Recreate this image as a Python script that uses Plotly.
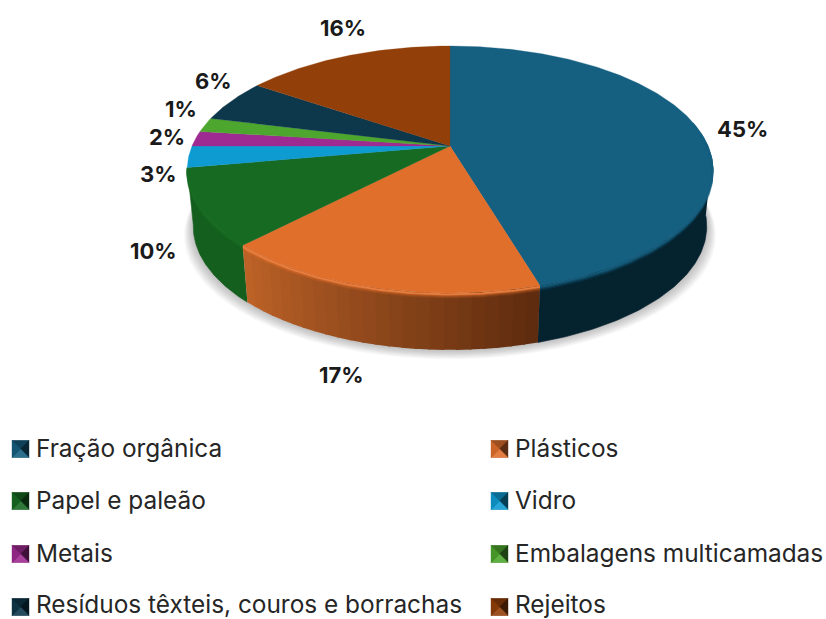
import numpy as np
import plotly.graph_objects as go

# ---- data ----
categories = ["Fração orgânica", "Plásticos", "Papel e paleão", "Vidro", "Metais",
              "Embalagens multicamadas", "Resíduos têxteis, couros e borrachas", "Rejeitos"]
slice_shares = [45.4, 16.8, 10.0, 2.8, 2.0, 1.9, 5.6, 15.5]   # slice sizes as drawn
percent_labels = ["45%", "17%", "10%", "3%", "2%", "1%", "6%", "16%"]  # printed labels
top_colors = ["#155F80", "#E06F2C", "#176A22", "#0E9BD2", "#9E2B91", "#4DA62D", "#0D384C", "#933F0A"]
wall_colors = ["#05222F", "#C06428", "#145E1E", "#0A6A90", "#6A1D62", "#347020", "#082430", "#602806"]

# ---- layout constants (pixel space of the 826x619 page) ----
W, H = 826, 619
CX, CY = 450, 146
RX, KY, P = 258, 119, 0.19     # perspective ellipse
DEPTH, BOTTOM_SCALE = 57, 0.977
label_xy = [(742, 129), (341, 375), (153, 251), (158, 174), (167, 137), (181, 109), (213, 81), (343, 28)]
legend_xy = [(12, 448), (491, 448), (12, 500), (491, 500), (12, 553), (491, 553), (12, 604), (491, 604)]
FONT = "Inter"


def rim(theta_deg, offset=0.0):
    t = np.radians(theta_deg)
    u, v = np.sin(t), -np.cos(t)
    den = 1 - P * v
    return CX + RX * u / den, CY + KY * v / den + offset


def floor_rim(theta_deg, grow=0.0, drop=0.0):
    x, y = rim(theta_deg)
    return CX + (x - CX) * (BOTTOM_SCALE + grow), y + DEPTH + drop


def hexrgb(c):
    return tuple(int(c[i:i + 2], 16) for i in (1, 3, 5))


def mix(a, b, f):
    ra, rb = hexrgb(a), hexrgb(b)
    return "rgb(%d,%d,%d)" % tuple(round(x + (y - x) * f) for x, y in zip(ra, rb))


fig = go.Figure()


def poly(xs, ys, color, name=None, line_w=0.6):
    fig.add_trace(go.Scatter(x=list(xs), y=list(ys), mode="lines", fill="toself", fillcolor=color,
                             line=dict(color=color, width=line_w), name=name or "",
                             hoverinfo="skip", showlegend=False))


def stroke(xs, ys, color, width):
    fig.add_trace(go.Scatter(x=list(xs), y=list(ys), mode="lines", line=dict(color=color, width=width),
                             hoverinfo="skip", showlegend=False))


edges = np.cumsum([0] + slice_shares) / sum(slice_shares) * 360

# soft shadow beneath the disc
all_t = np.linspace(0, 360, 361)
for e in range(11, 0, -1):
    xs, ys = floor_rim(all_t, grow=e * 0.0032, drop=e * 0.85)
    poly(xs, ys, "rgba(60,60,60,0.030)", line_w=0)

# side walls of the front-facing slices
SIL_A, SIL_B = 96, edges[3]
for i in (0, 2):
    a, b = max(edges[i], SIL_A), min(edges[i + 1], SIL_B)
    t = np.linspace(a, b, 80)
    x1, y1 = rim(t)
    x2, y2 = floor_rim(t)
    poly(np.r_[x1, x2[::-1]], np.r_[y1, y2[::-1]], wall_colors[i], categories[i])

# plastic wall carries a banded gradient, left bright -> right dark
a, b = edges[1], edges[2]
bands = np.linspace(a, b, 25)
for j in range(len(bands) - 1):
    t = np.linspace(bands[j], bands[j + 1] + 0.4, 5)
    t = np.minimum(t, b)
    f = (bands[j] - b) / (a - b)
    col = mix("#C06428", "#5F2C0F", f)
    x1, y1 = rim(t)
    x2, y2 = floor_rim(t)
    poly(np.r_[x1, x2[::-1]], np.r_[y1, y2[::-1]], col, categories[1], line_w=0)

# top faces
for i, cat in enumerate(categories):
    t = np.linspace(edges[i], edges[i + 1], max(4, int(edges[i + 1] - edges[i]) * 2))
    x, y = rim(t)
    poly(np.r_[CX, x, CX], np.r_[CY, y, CY], top_colors[i], cat, line_w=0.3)

# bevel: blended strokes along the front rim
fades = [(5, 0.10), (4, 0.22), (3, 0.42), (2, 0.68), (1, 0.95)]
for i in (0, 1, 2):
    a, b = max(edges[i], SIL_A - 18), min(edges[i + 1], SIL_B)
    t = np.linspace(a, b, 80)
    r, g, bl = hexrgb(top_colors[i])
    for off, al in fades:
        x, y = rim(t, off)
        stroke(x, y, f"rgba({r},{g},{bl},{al})", 1.5)
    if i == 1:
        x, y = rim(t, 1.5)
        stroke(x, y, "rgba(240,140,80,0.6)", 1.6)

# legend keys: small bevelled squares
K = 17
key_y = [449, 449, 501, 501, 554, 554, 607, 607]
for (lx, _), ly, base in zip(legend_xy, key_y, top_colors):
    x0, y0, x1, y1 = lx, ly - K / 2, lx + K, ly + K / 2
    mx, my = (x0 + x1) / 2, (y0 + y1) / 2
    poly([x0, x1, x1, x0, x0], [y0, y0, y1, y1, y0], mix(base, "#000000", 0.35), line_w=0)
    poly([x0, x1, mx, x0], [y0, y0, my, y0], mix(base, "#000000", 0.3), line_w=0.4)
    poly([x1, x1, mx, x1], [y0, y1, my, y0], mix(base, "#000000", 0.6), line_w=0.4)
    poly([x0, x1, mx, x0], [y1, y1, my, y1], mix(base, "#FFFFFF", 0.1), line_w=0.4)
    poly([x0, x0, mx, x0], [y0, y1, my, y0], mix(base, "#000000", 0.1), line_w=0.4)

annotations = []
for (x, y), txt in zip(label_xy, percent_labels):
    annotations.append(dict(x=x, y=y, xref="x", yref="y", text=f"<b>{txt}</b>", showarrow=False,
                            font=dict(family=FONT, size=22, color="#1a1a1a"),
                            xanchor="center", yanchor="middle"))
for (x, y), txt in zip(legend_xy, categories):
    annotations.append(dict(x=x + 22, y=y, xref="x", yref="y", text=txt, showarrow=False,
                            font=dict(family=FONT, size=24.4, color="#262626"),
                            xanchor="left", yanchor="middle"))

fig.update_layout(
    width=W, height=H, autosize=False, margin=dict(l=0, r=0, t=0, b=0),
    paper_bgcolor="white", plot_bgcolor="white", showlegend=False,
    xaxis=dict(visible=False, range=[0, W], fixedrange=True),
    yaxis=dict(visible=False, range=[H, 0], fixedrange=True),
    annotations=annotations,
)
fig.write_html("out.html", post_script="document.body.style.margin='0';", config={"displayModeBar": False})
